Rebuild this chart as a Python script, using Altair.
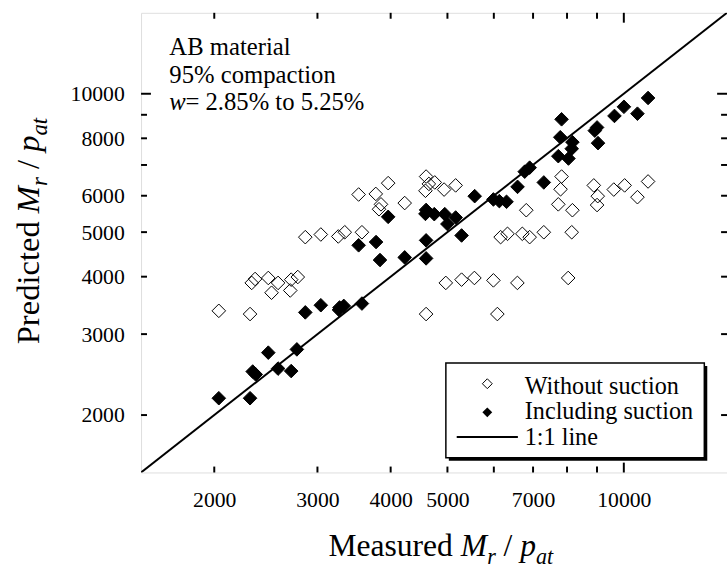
import altair as alt
import pandas as pd

# ---------------- data ----------------
without_measured = [2036, 2302, 2317, 2348, 2473, 2505, 2570, 2696, 2706, 2777,
                    2860, 3040, 3256, 3340, 3573, 3527, 3773, 3851, 3821, 3961,
                    4227, 4598, 4648, 4586, 4598, 4757, 4935, 5164, 6816, 7730,
                    7830, 7799, 8171, 8887, 9026, 9002, 9613, 10032, 10550, 11000,
                    6162, 6331, 6711, 6907, 7302, 8149, 4968, 5286, 5559, 5990,
                    6582, 8036, 6084]
without_predicted = [3371, 3317, 3877, 3954, 3974, 3691, 3877, 3733, 3941, 3993,
                     4876, 4941, 4893, 4997, 4997, 6037, 6055, 5747, 5607, 6391,
                     5784, 6605, 6366, 6151, 3317, 6413, 6188, 6319, 5580, 5747,
                     6605, 6197, 5580, 6319, 5987, 5727, 6188, 6319, 5957, 6445,
                     4876, 4958, 4958, 4876, 4997, 4997, 3877, 3941, 3974, 3927,
                     3877, 3974, 3317]
including_measured = [2036, 2302, 2326, 2354, 2570, 2706, 2473, 2767, 2860, 3040,
                      3264, 3272, 3327, 3573, 3527, 3777, 3836, 3961, 4227, 4598,
                      4598, 4598, 4586, 4748, 4948, 5164, 4999, 5286, 5565, 5990,
                      6131, 6307, 6586, 6774, 6907, 7302, 7730, 8045, 8171, 8149,
                      7790, 7830, 8922, 9002, 9036, 9639, 10004, 10550, 11000]
including_predicted = [2176, 2176, 2487, 2451, 2524, 2493, 2734, 2779, 3345, 3467,
                       3388, 3428, 3455, 3496, 4681, 4758, 4348, 5398, 4406, 4798,
                       4384, 5588, 5479, 5471, 5471, 5380, 5208, 4917, 5987, 5890,
                       5841, 5821, 6273, 6769, 6906, 6413, 7315, 7229, 7847, 7593,
                       8043, 8799, 8313, 8448, 7809, 8949, 9367, 9050, 9791]
one_to_one = [1500, 15000]
axis_domain = [1500, 15000]

x_tick_values = [2000, 3000, 4000, 5000, 6000, 7000, 8000, 9000, 10000]
x_label_values = [2000, 3000, 4000, 5000, 7000, 10000]
y_tick_values = [2000, 3000, 4000, 5000, 6000, 7000, 8000, 9000, 10000]
y_label_values = [2000, 3000, 4000, 5000, 6000, 8000, 10000]

series_names = ["Without suction", "Including suction", "1:1 line"]
note_lines = ["AB material", "95% compaction"]
note_w = ["w", "= 2.85% to 5.25%"]
x_title_parts = ["Measured", "M", "r", "/", "p", "at"]
y_title_parts = ["Predicted", "M", "r", "/", "p", "at"]

# ---------------- layout / style ----------------
FONT = "Liberation Serif"
W, H = 594, 466
PAD_L, PAD_T = 143, 9

pts = pd.DataFrame({
    "measured": including_measured + without_measured,
    "predicted": including_predicted + without_predicted,
    "series": [series_names[1]] * len(including_measured)
              + [series_names[0]] * len(without_measured),
})
line_df = pd.DataFrame({"measured": one_to_one, "predicted": one_to_one})
xt_df = pd.DataFrame({"v": x_tick_values})
yt_df = pd.DataFrame({"v": y_tick_values})

xscale = alt.Scale(type="log", domain=axis_domain, nice=False)
yscale = alt.Scale(type="log", domain=axis_domain, nice=False)
shape_scale = alt.Scale(domain=series_names[:2], range=["diamond", "diamond"])
fill_scale = alt.Scale(domain=series_names[:2], range=["transparent", "black"])


def label_axis(orient, values):
    return alt.Axis(orient=orient, values=values, format="d", ticks=False,
                    tickSize=0, domain=False, grid=False, labelPadding=17,
                    labelFont=FONT, labelFontSize=22, labelColor="black",
                    labelOverlap=False, labelFlush=False, labelBound=False,
                    title=None)


x_axis = label_axis("bottom", x_label_values)
y_axis = label_axis("left", y_label_values)

points = alt.Chart(pts).mark_point(
    filled=True, size=190, stroke="black", strokeWidth=1, opacity=1
).encode(
    x=alt.X("measured:Q", scale=xscale, axis=x_axis),
    y=alt.Y("predicted:Q", scale=yscale, axis=y_axis),
    shape=alt.Shape("series:N", scale=shape_scale, legend=None),
    fill=alt.Fill("series:N", scale=fill_scale, legend=None),
)

line = alt.Chart(line_df).mark_line(color="black", strokeWidth=2, clip=True).encode(
    x=alt.X("measured:Q", scale=xscale, axis=x_axis),
    y=alt.Y("predicted:Q", scale=yscale, axis=y_axis),
)

# inward tick marks on all four sides (positions from the scales)
tick_layers = []
for flt, ln in (("datum.v != 10000", 6), ("datum.v == 10000", 10)):
    bx = alt.Chart(xt_df).transform_filter(flt).mark_rule(color="black", strokeWidth=2)
    by = alt.Chart(yt_df).transform_filter(flt).mark_rule(color="black", strokeWidth=2)
    xv = alt.X("v:Q", scale=xscale, axis=x_axis)
    yv = alt.Y("v:Q", scale=yscale, axis=y_axis)
    tick_layers += [
        bx.encode(x=xv, y=alt.value(H), y2=alt.value(H - ln)),
        bx.encode(x=xv, y=alt.value(0), y2=alt.value(ln)),
        by.encode(y=yv, x=alt.value(0), x2=alt.value(ln)),
        by.encode(y=yv, x=alt.value(W), x2=alt.value(W - ln)),
    ]


def txt(t, x, y, size, italic=False, angle=0):
    return alt.Chart(pd.DataFrame({"t": [t]})).mark_text(
        align="left", baseline="alphabetic", font=FONT, fontSize=size,
        fontStyle="italic" if italic else "normal", angle=angle, color="black"
    ).encode(text="t:N", x=alt.value(x), y=alt.value(y))


# ---- legend box (drawn by hand, with its drop shadow) ----
LX0, LX1, LY0, LY1 = 309, 571, 355, 451   # box edges relative to plot origin
one = pd.DataFrame({"k": [0]})
legend_layers = [
    alt.Chart(one).mark_rect(color="black").encode(
        x=alt.value(LX0 + 3), x2=alt.value(LX1 + 3),
        y=alt.value(LY0 + 3), y2=alt.value(LY1 + 3)),
    alt.Chart(one).mark_rect(fill="white", stroke="black", strokeWidth=1.5).encode(
        x=alt.value(LX0), x2=alt.value(LX1), y=alt.value(LY0), y2=alt.value(LY1)),
    alt.Chart(one).mark_point(shape="diamond", size=100, filled=False,
                              color="black", strokeWidth=1, opacity=1).encode(
        x=alt.value(351), y=alt.value(376)),
    alt.Chart(one).mark_point(shape="diamond", size=100, filled=True,
                              color="black", opacity=1).encode(
        x=alt.value(351), y=alt.value(405)),
    alt.Chart(one).mark_rule(color="black", strokeWidth=2).encode(
        x=alt.value(320), x2=alt.value(382), y=alt.value(430)),
]
for i, name in enumerate(series_names):
    legend_layers.append(txt(name, 389, 386 + 26 * i, 24.5))

texts = [
    txt(note_lines[0], 28.7, 42.7, 25),
    txt(note_lines[1], 28.7, 71, 25),
    txt(note_w[0], 28.7, 98.3, 25, italic=True),
    txt(note_w[1], 45, 98.3, 25),
]

# rich-text axis titles: (em advance, trailing gap in em, italic, subscript)
title_style = [(None, 0.25, False, False), (0.833, 0.0, True, False),
               (0.389, 0.25, True, True), (0.278, 0.25, False, False),
               (0.5, 0.0, True, False), (0.778, 0.0, True, True)]
first_em = {"Measured": 3.943, "Predicted": 3.777}


def title_offsets(parts, size):
    sub = size * 0.7
    out, cur = [], 0.0
    for part, (em, gap, it, is_sub) in zip(parts, title_style):
        fs = sub if is_sub else size
        out.append((part, cur, fs, it, is_sub))
        adv = first_em[part] if em is None else em
        cur += adv * fs + gap * size
    return out


for part, off, fs, it, is_sub in title_offsets(x_title_parts, 32):
    texts.append(txt(part, 190 + off, 551 + (8 if is_sub else 0), fs, italic=it))

for part, off, fs, it, is_sub in title_offsets(y_title_parts, 33):
    texts.append(txt(part, -103 + (8 if is_sub else 0), 336 - off, fs,
                     italic=it, angle=270))

chart = alt.layer(line, points, *tick_layers, *legend_layers, *texts).properties(
    width=W, height=H,
    padding={"left": PAD_L, "top": PAD_T, "right": 0, "bottom": 580 - PAD_T - H},
    autosize=alt.AutoSizeParams(type="none"),
).configure_view(stroke="black", strokeWidth=2).configure(background="white")

chart.save("out.html", embed_options={"renderer": "svg", "actions": False})
